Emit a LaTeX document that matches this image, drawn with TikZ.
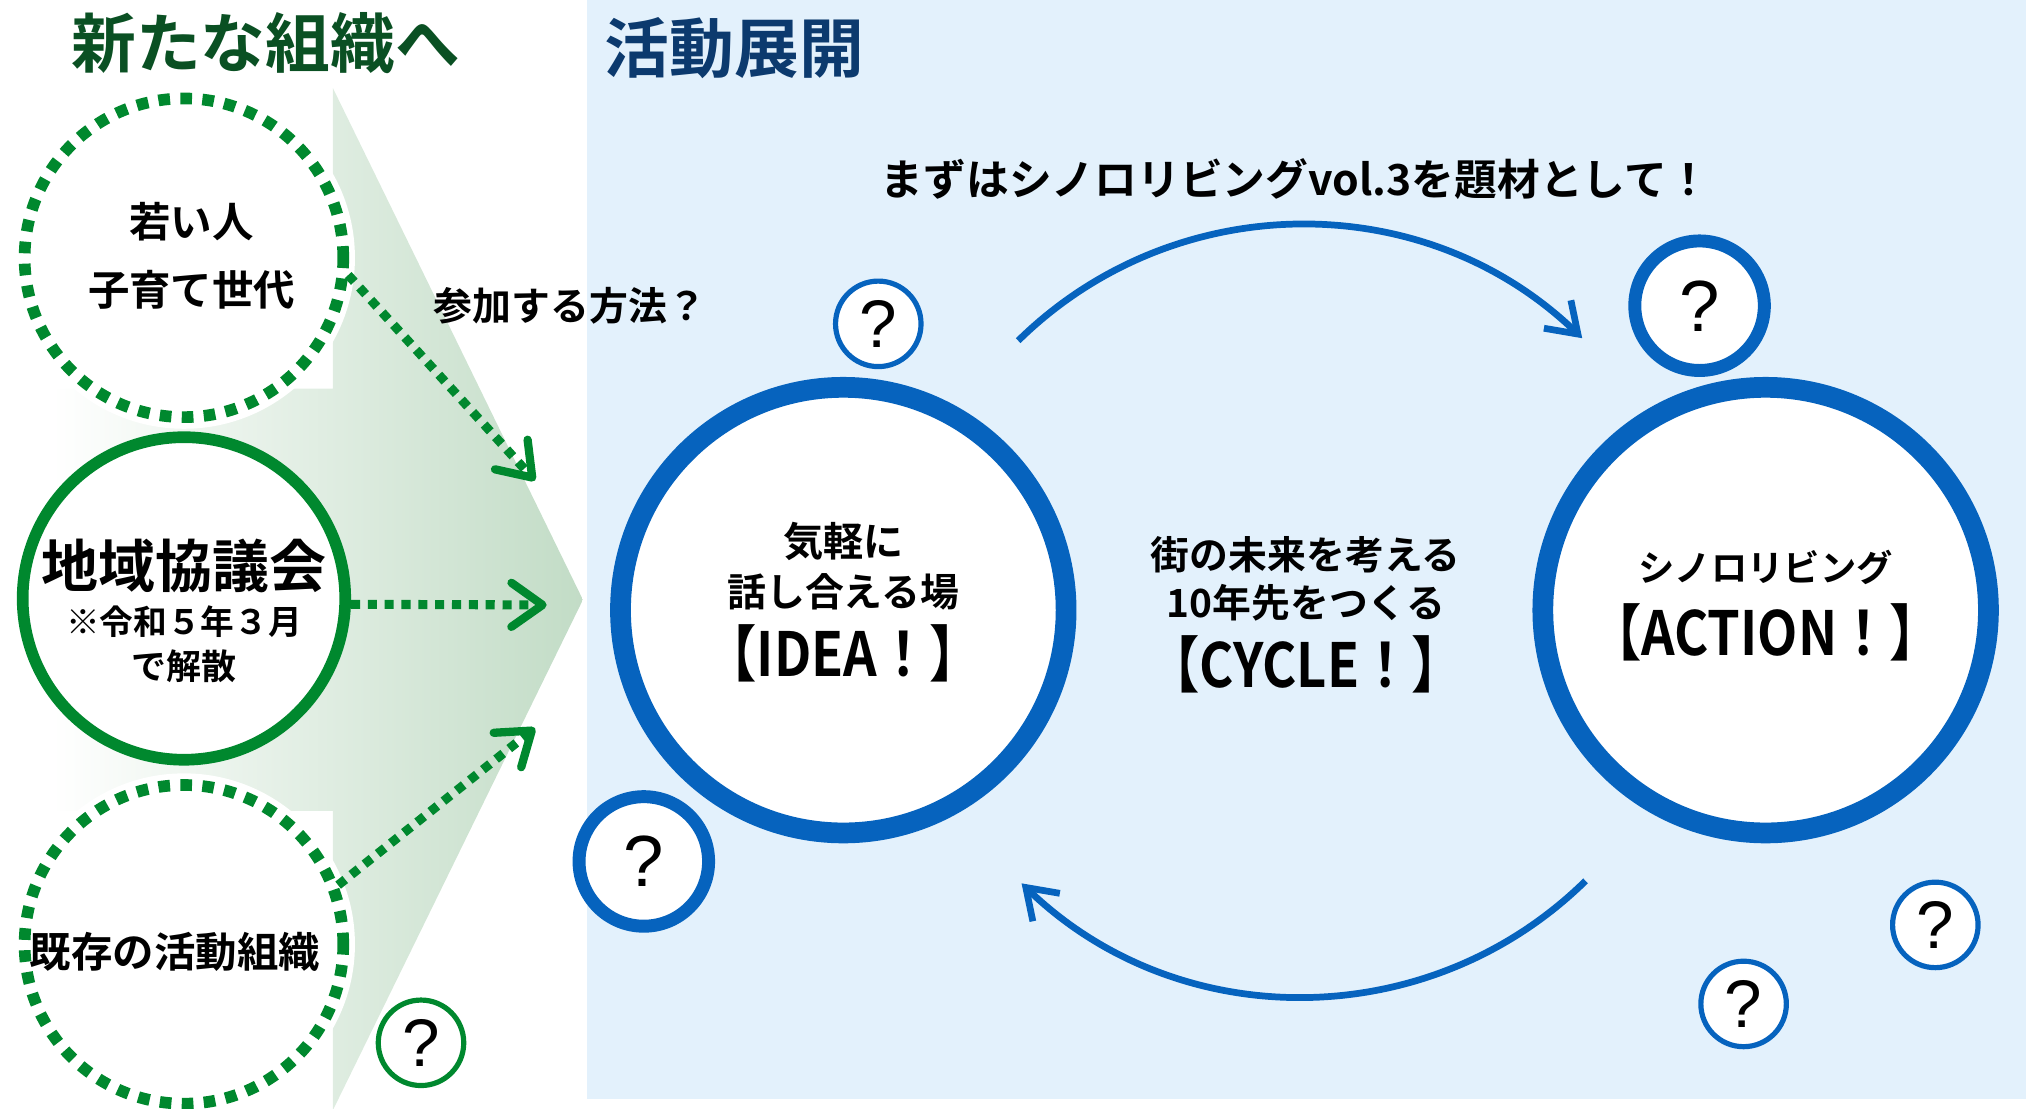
\documentclass[tikz,border=0pt]{standalone}
\usepackage{fontspec}
\newfontfamily\jp{Noto Sans CJK JP}[BoldFont={Noto Sans CJK JP Bold}]
\newfontfamily\jpn{Noto Sans CJK JP}[BoldFont={Noto Sans CJK JP Bold}, FakeStretch=0.86]
\newfontfamily\qfont{Liberation Sans}
\usetikzlibrary{arrows.meta}
\definecolor{cgreen}{RGB}{0,136,46}
\definecolor{ctitleg}{RGB}{10,80,35}
\definecolor{ctitleb}{RGB}{12,58,110}
\definecolor{cblue}{RGB}{6,99,190}
\definecolor{cbg}{RGB}{227,241,252}
\definecolor{cshade}{RGB}{194,220,198}
\definecolor{cshademid}{RGB}{236,244,237}
\newcommand{\fsz}[1]{\fontsize{#1pt}{#1pt}\selectfont}
\tikzset{
  txt/.style={font=\jp\bfseries\fsz{#1}, text=black, inner sep=0pt},
  bigtxt/.style={font=\jpn\bfseries\fsz{#1}, text=black, inner sep=0pt},
  dashcirc/.style={circle, draw=cgreen, fill=white, line width=4.5pt, dash pattern=on 4.5pt off 4pt, minimum size=123pt, inner sep=0pt},
  solidcirc/.style={circle, draw=cgreen, fill=white, line width=4.5pt, minimum size=124.5pt, inner sep=0pt},
  bigblue/.style={circle, draw=cblue, fill=white, line width=8pt, minimum size=172pt, inner sep=0pt},
  qsmall/.style={circle, draw=#1, fill=white, line width=2pt, minimum size=33pt, inner sep=0pt, font=\qfont\fsz{26}},
  qmid/.style={circle, draw=cblue, fill=white, line width=5pt, minimum size=50pt, inner sep=0pt, font=\qfont\fsz{28}},
  garrow/.style={draw=cgreen, line width=3.5pt, dash pattern=on 3.5pt off 3pt, -{Straight Barb[length=12pt, width=17pt, line width=3.2pt, round]}},
  barrow/.style={draw=cblue, line width=2.6pt, -{Straight Barb[length=11pt, width=15pt, line width=2.6pt]}}
}
\begin{document}
\begin{tikzpicture}[x=0.5pt, y=-0.5pt]
\useasboundingbox (0,0) rectangle (1564,856);
% backgrounds
\fill[cbg] (453,0) rectangle (1564,848);
\shade[left color=white, middle color=cshademid, right color=cshade] (40,300) -- (257,300) -- (257,68) -- (450,463) -- (257,857) -- (257,626) -- (40,626) -- cycle;
% titles
\node[txt=25, text=ctitleg] (title1) at (205,33) {新たな組織へ};
\node[txt=25, text=ctitleb] (title2) at (567,37) {活動展開};
% left circles
\fill[white] (142,199) circle[radius=66pt];
\fill[white] (142,729) circle[radius=66pt];
\node[dashcirc] (c1) at (142,199) {};
\node[solidcirc] (c2) at (142,462) {};
\node[dashcirc] (c3) at (142,729) {};
\node[qsmall=cgreen] (qg) at (325,805) {?};
\node[txt=16] (t1a) at (148,171) {若い人};
\node[txt=16] (t1b) at (148,224) {子育て世代};
\node[txt=22] (t2a) at (142,437) {地域協議会};
\node[txt=13] (t2b) at (142,480) {※令和５年３月};
\node[txt=13.5] (t2c) at (142,514) {で解散};
\node[txt=16] (t3a) at (135,735) {既存の活動組織};
% green arrows
\coordinate (a1e) at (413,371);
\coordinate (a2e) at (422,467);
\coordinate (a3e) at (413,562);
\draw[garrow] (c1.-6) -- (a1e);
\draw[garrow] (c2.-2) -- (a2e);
\draw[garrow] (c3.21) -- (a3e);
\node[txt=15] (join) at (440,236) {参加する方法？};
% blue part
\node[txt=16.5] (theme) at (1000,138) {まずはシノロリビングvol.3を題材として！};
\node[bigblue] (idea) at (651,471) {};
\node[bigblue] (action) at (1363,471) {};
\node[txt=15.5] (i1) at (651,418) {気軽に};
\node[txt=15] (i2) at (651,457) {話し合える場};
\node[bigtxt=23.5] (i3) at (651,504) {【IDEA！】};
\node[txt=15] (m1) at (1008,428) {街の未来を考える};
\node[txt=15] (m2) at (1008,465) {10年先をつくる};
\node[bigtxt=23.5] (m3) at (1008,513) {【CYCLE！】};
\node[txt=14] (r1) at (1363,438) {シノロリビング};
\node[bigtxt=23.5] (r2) at (1363,488) {【ACTION！】};
% arcs
\coordinate (arcA) at (786,263);
\coordinate (arcB) at (1224,680);
\draw[barrow] (arcA) arc[start angle=134.5, end angle=46, radius=156pt];
\draw[barrow] (arcB) arc[start angle=-45.5, end angle=-134, radius=156pt];
% question circles
\node[qsmall=cblue] (q1) at (678,250) {?};
\node[qmid] (q2) at (1312,236) {?};
\node[qmid] (q3) at (497,665) {?};
\node[qsmall=cblue] (q4) at (1494,714) {?};
\node[qsmall=cblue] (q5) at (1346,775) {?};
\end{tikzpicture}
\end{document}
